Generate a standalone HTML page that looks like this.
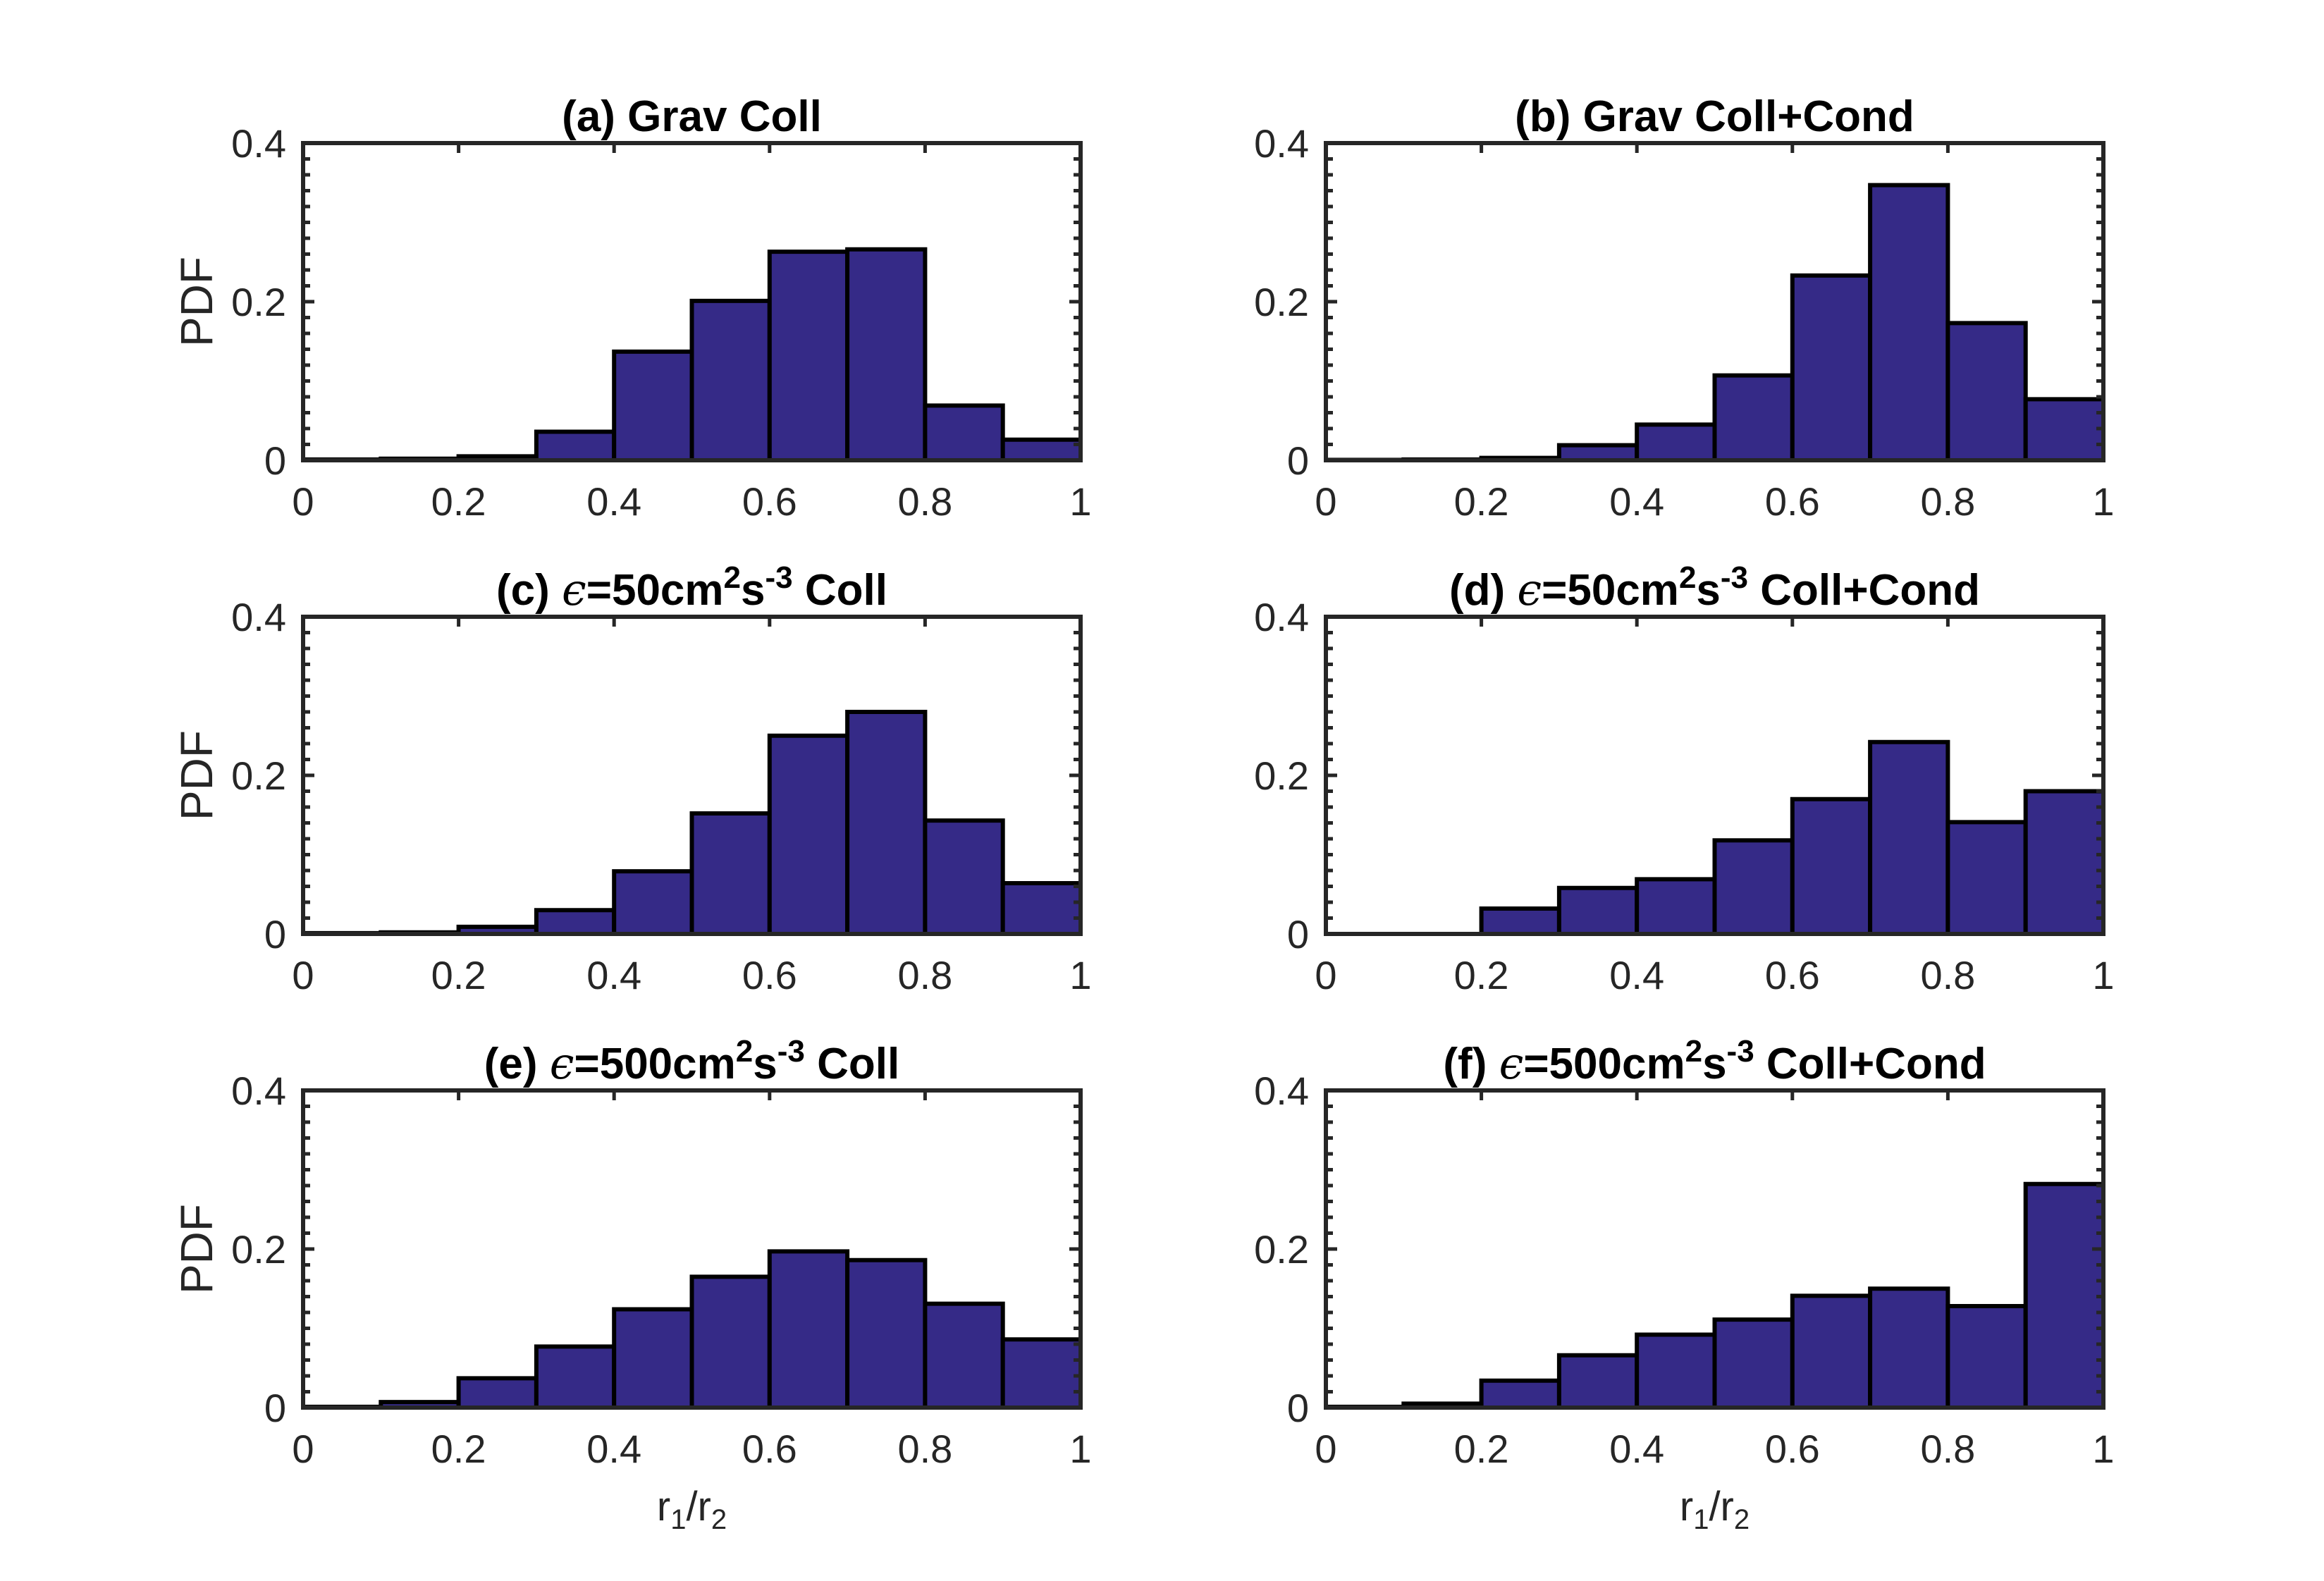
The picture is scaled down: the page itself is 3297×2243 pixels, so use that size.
<!DOCTYPE html>
<html><head><meta charset="utf-8"><style>
html,body{margin:0;padding:0;background:#fff}
svg{display:block}
text{font-family:"Liberation Sans",sans-serif;fill:#262626}
</style></head><body>
<svg id="fig" width="3297" height="2243" viewBox="0 0 3297 2243" xmlns="http://www.w3.org/2000/svg"></svg>
<script>
const binEdges = [0,0.1,0.2,0.3,0.4,0.5,0.6,0.7,0.8,0.9,1.0];
const xTicks = [0,0.2,0.4,0.6,0.8,1];
const xTickLabels = ["0","0.2","0.4","0.6","0.8","1"];
const yTicks = [0,0.2,0.4];
const yTickLabels = ["0","0.2","0.4"];
const pdfA = [0.001,0.002,0.005,0.036,0.137,0.201,0.263,0.266,0.069,0.026];
const pdfB = [0.0005,0.001,0.003,0.019,0.045,0.107,0.233,0.347,0.173,0.077];
const pdfC = [0.001,0.002,0.009,0.030,0.079,0.152,0.250,0.280,0.143,0.064];
const pdfD = [0,0,0.032,0.058,0.069,0.118,0.170,0.242,0.141,0.180];
const pdfE = [0.001,0.007,0.037,0.077,0.124,0.165,0.197,0.186,0.131,0.086];
const pdfF = [0.001,0.005,0.034,0.066,0.092,0.111,0.141,0.150,0.128,0.282];
const titles = ["(a) Grav Coll","(b) Grav Coll+Cond"];
const series = [pdfA,pdfB,pdfC,pdfD,pdfE,pdfF];

const NS="http://www.w3.org/2000/svg";
const svg=document.getElementById('fig');
function mk(tag,attrs,parent){const e=document.createElementNS(NS,tag);for(const k in attrs)e.setAttribute(k,attrs[k]);(parent||svg).appendChild(e);return e;}

const colL=[430,1881], W=1103;
const rowT=[203,875,1547], H=450;
const ymax=0.4;
const names=['a','b','c','d','e','f'];

series.forEach((vals,i)=>{
  const L=colL[i%2], T=rowT[Math.floor(i/2)], B=T+H, R=L+W;
  const xs=v=>L+v*W;
  const ys=v=>B-v/ymax*H;
  const g=mk('g',{});
  
  
  vals.forEach((v,j)=>{
    const x0=xs(binEdges[j]), x1=xs(binEdges[j+1]), y=ys(v);
    const r=mk('rect',{x:x0,y:y,width:x1-x0,height:B-y,fill:'#352a87',stroke:'#000','stroke-width':6},g);
    
    
  });
  const box=mk('rect',{x:L,y:T,width:W,height:H,fill:'none',stroke:'#262626','stroke-width':6},g);
  
  
  for(let k=1;k<20;k++){
    const v=k*0.02, y=ys(v);
    const len=(k%10===0)?16:10;
    mk('line',{x1:L,x2:L+len,y1:y,y2:y,stroke:'#262626','stroke-width':5},g);
    mk('line',{x1:R,x2:R-len,y1:y,y2:y,stroke:'#262626','stroke-width':5},g);
  }
  xTicks.forEach(v=>{mk('line',{x1:xs(v),x2:xs(v),y1:T,y2:T+14,stroke:'#262626','stroke-width':5},g);});
  xTicks.forEach((v,k)=>{
    const t=mk('text',{x:xs(v),y:B+78,'font-size':56,'text-anchor':'middle'},g);
    t.textContent=xTickLabels[k];
    
    
  });
  yTicks.forEach((v,k)=>{
    const t=mk('text',{x:L-24,y:ys(v)+20,'font-size':56,'text-anchor':'end'},g);
    t.textContent=yTickLabels[k];
    
    
  });
  if(i%2===0){
    const t=mk('text',{x:0,y:0,'font-size':64,'text-anchor':'middle',transform:`translate(${L-129},${(T+B)/2}) rotate(-90)`},g);
    t.textContent='PDF';
    
    
  }
  const cx=L+W/2;
  const tt=mk('text',{x:cx,y:T-17,'font-size':62,'font-weight':'bold','text-anchor':'middle'},g);
  
  
  tt.style.fill='#000';
  if(i<2){tt.textContent=titles[i];}
  else{
    const eps=i<4?'50':'500', rest=i%2===0?' Coll':' Coll+Cond';
    tt.innerHTML=`<tspan>(${names[i]}) </tspan><tspan font-weight="normal" font-style="italic" font-family="DejaVu Serif, serif">ϵ</tspan><tspan>=${eps}cm</tspan><tspan dy="-24" font-size="44">2</tspan><tspan dy="24">s</tspan><tspan dy="-24" font-size="44">-3</tspan><tspan dy="24">${rest}</tspan>`;
  }
  if(i>=4){
    const t=mk('text',{x:cx,y:B+160,'font-size':58,'text-anchor':'middle'},g);
    t.innerHTML='r<tspan dy="12" font-size="40">1</tspan><tspan dy="-12">/r</tspan><tspan dy="12" font-size="40">2</tspan>';
    
    
  }
});
</script>
</body></html>
